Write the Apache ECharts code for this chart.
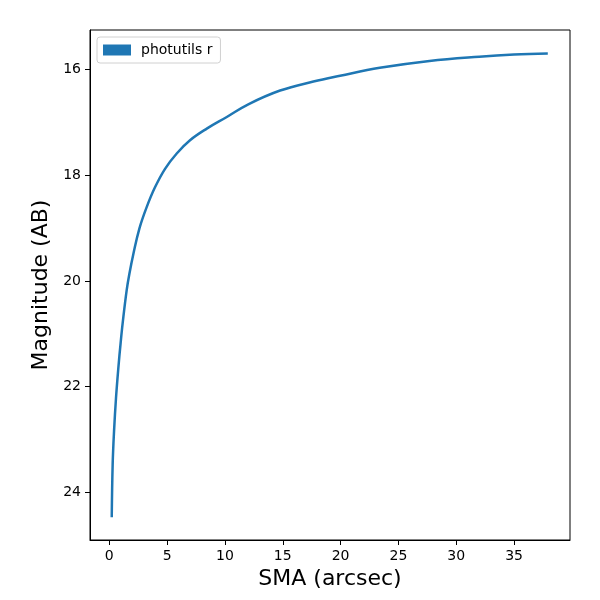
<!DOCTYPE html>
<html>
<head>
<meta charset="utf-8">
<script src="https://cdn.jsdelivr.net/npm/echarts@6/dist/echarts.min.js"></script>
<style>
  html, body { margin: 0; padding: 0; background: #fff; }
  #main { width: 600px; height: 600px; }
</style>
</head>
<body>
<div id="main"></div>
<script>
// curve: SMA (arcsec) vs magnitude
var sma = [0.21, 0.29, 0.41, 0.58, 0.78, 0.98, 1.16, 1.5, 1.75, 2.08, 2.6, 3.24, 3.95, 4.82, 5.83, 6.98, 8.43, 10.16, 12.02, 14.77, 17.65, 19.96, 23.39, 27.69, 31.99, 35.0, 37.92];
var mag = [24.47, 23.47, 22.84, 22.21, 21.65, 21.17, 20.79, 20.18, 19.85, 19.49, 19.01, 18.60, 18.23, 17.88, 17.59, 17.34, 17.12, 16.90, 16.66, 16.40, 16.23, 16.12, 15.97, 15.84, 15.76, 15.72, 15.70];
var xTicks = [0, 5, 10, 15, 20, 25, 30, 35];
var yTicks = [16, 18, 20, 22, 24];

var points = sma.map(function (x, i) { return [x, mag[i]]; });
var font = 'DejaVu Sans';

var chart = echarts.init(document.getElementById('main'));
chart.setOption({
  animation: false,
  grid: {
    left: 90, right: 30, top: 30, bottom: 60,
    show: true, borderColor: '#000', borderWidth: 1
  },
  legend: {
    left: 97, top: 37,
    icon: 'rect', itemWidth: 28, itemHeight: 11,
    padding: [6, 8, 6, 6],
    backgroundColor: '#fff',
    borderColor: '#d0d0d0', borderWidth: 1, borderRadius: 3,
    textStyle: { fontFamily: font, fontSize: 14, color: '#000', padding: [0, 0, 0, 5] },
    data: ['photutils r']
  },
  xAxis: {
    type: 'value',
    min: -1.67, max: 39.84,
    name: 'SMA (arcsec)',
    nameLocation: 'middle', nameGap: 28,
    nameTextStyle: { fontFamily: font, fontSize: 22, color: '#000' },
    axisLine: { show: true, onZero: false, lineStyle: { color: '#000' } },
    axisTick: { show: true, length: 5, lineStyle: { color: '#000' }, customValues: xTicks },
    axisLabel: { fontFamily: font, fontSize: 14, color: '#000', margin: 9, customValues: xTicks },
    splitLine: { show: false }
  },
  yAxis: {
    type: 'value',
    inverse: true,
    min: 15.255, max: 24.90,
    name: 'Magnitude (AB)',
    nameLocation: 'middle', nameGap: 34,
    nameTextStyle: { fontFamily: font, fontSize: 22, color: '#000' },
    axisLine: { show: true, onZero: false, lineStyle: { color: '#000' } },
    axisTick: { show: true, length: 5, lineStyle: { color: '#000' }, customValues: yTicks },
    axisLabel: { fontFamily: font, fontSize: 14, color: '#000', margin: 9, customValues: yTicks },
    splitLine: { show: false }
  },
  series: [{
    name: 'photutils r',
    type: 'line',
    data: points,
    showSymbol: false,
    symbol: 'none',
    smooth: 0.4,
    color: '#1f77b4',
    lineStyle: { width: 2.5, color: '#1f77b4' }
  }]
});
</script>
</body>
</html>
